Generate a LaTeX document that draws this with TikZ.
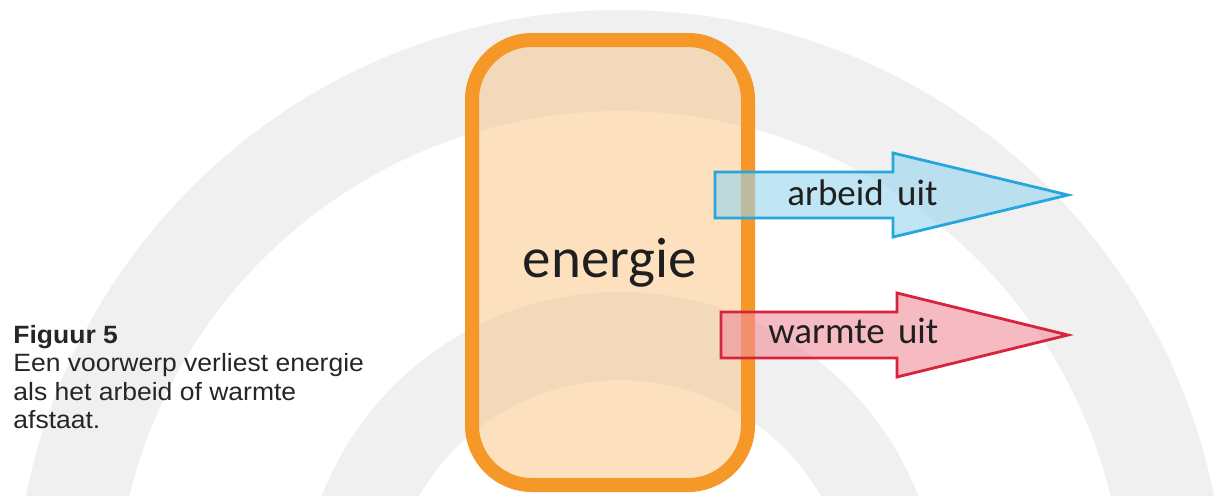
\documentclass[tikz,border=0pt]{standalone}
\usepackage{fontspec}
\setmainfont{Liberation Sans}
\newfontfamily\labelfont{Carlito}
\definecolor{bandgray}{RGB}{240,240,240}
\definecolor{boxfill}{RGB}{253,224,190}
\definecolor{boxband}{RGB}{242,217,185}
\definecolor{boxedge}{RGB}{245,152,40}
\definecolor{workedge}{RGB}{38,166,222}
\definecolor{workfill}{RGB}{150,212,238}
\definecolor{heatedge}{RGB}{215,35,60}
\definecolor{heatfill}{RGB}{240,140,155}
\begin{document}
\begin{tikzpicture}[x=0.5pt,y=-0.5pt,
  flow/.style={line width=1.4pt, line join=miter, fill opacity=0.6},
  flowlabel/.style={font=\labelfont\fontsize{18.5}{22}\selectfont, text=black!88, inner sep=0pt, anchor=base west},
  caption/.style={font=\fontsize{12.5}{15}\selectfont, text=black!85, inner sep=0pt, anchor=base west, xscale=1.06}]

\useasboundingbox (0,0) rectangle (1217,495);
\fill[white] (0,0) rectangle (1217,495);

% two concentric grey rings in the background
\begin{scope}
  \clip (0,0) rectangle (1217,495);
  \fill[bandgray, even odd rule]
    (620,616) circle[radius=606] (620,616) circle[radius=505]
    (620,612) circle[radius=320] (620,612) circle[radius=232];
\end{scope}

% the energy store: peach fill, rings show through a little darker
\fill[boxfill, rounded corners=30pt] (472,40) rectangle (748,485);
\begin{scope}
  \clip[rounded corners=30pt] (472,40) rectangle (748,485);
  \fill[boxband, even odd rule]
    (620,616) circle[radius=606] (620,616) circle[radius=505]
    (620,612) circle[radius=320] (620,612) circle[radius=232];
\end{scope}
\node[draw=boxedge, line width=7pt, rounded corners=30pt,
      minimum width=138pt, minimum height=222.5pt, inner sep=0pt,
      font=\labelfont\fontsize{28.5}{34}\selectfont, text=black!88]
  (box) at (610,262.5) {energie};

% outgoing flows
\draw[flow, draw=workedge, fill=workfill]
  (715,172) -- (893,172) -- (893,153) -- (1068,195) -- (893,237) -- (893,218) -- (715,218) -- cycle;
\draw[flow, draw=heatedge, fill=heatfill]
  (721,312) -- (897,312) -- (897,293) -- (1068,335) -- (897,377) -- (897,358) -- (721,358) -- cycle;
\node[flowlabel] (work) at (787,205) {arbeid\hspace{0.36em}uit};
\node[flowlabel] (heat) at (768,343) {warmte\hspace{0.36em}uit};

% caption
\node[caption, font=\bfseries\fontsize{12.5}{15}\selectfont] (fig) at (13,343) {Figuur 5};
\node[caption] (cap1) at (13,371.5) {Een voorwerp verliest energie};
\node[caption] (cap2) at (13,400) {als het arbeid of warmte};
\node[caption] (cap3) at (13,428.5) {afstaat.};
\end{tikzpicture}
\end{document}
